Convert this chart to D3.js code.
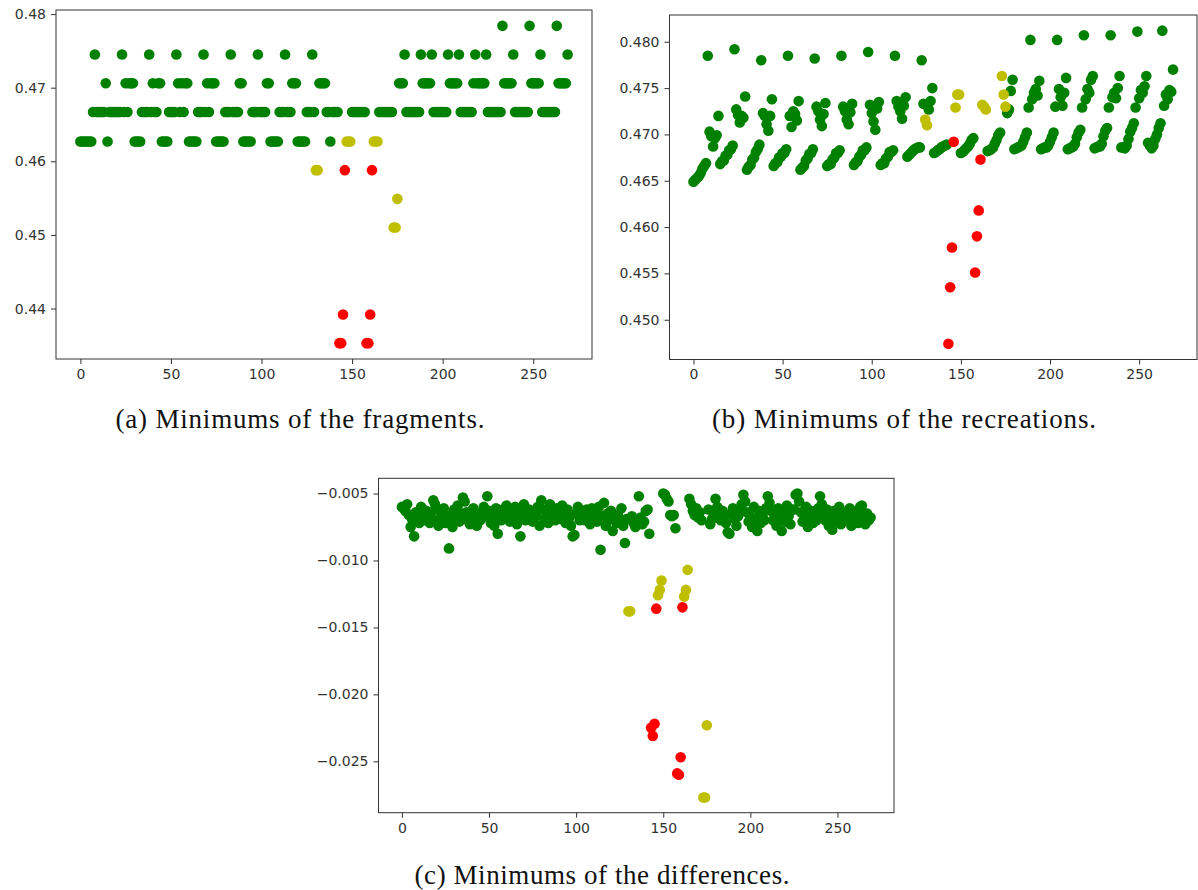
<!DOCTYPE html>
<html>
<head>
<meta charset="utf-8">
<script src="https://cdn.jsdelivr.net/npm/d3@7"></script>
<style>
  body { margin: 0; background: #fff; }
  svg { display: block; }
</style>
</head>
<body>
<svg id="fig" width="1198" height="890"></svg>
<script>
// Minimum value per fragment (index 0..269), 18 blocks of 15
const fragmentMins = [
  0.4627,0.4627,0.4627,0.4627,0.4627,0.4627,0.4627,0.4667,0.4745,0.4667,0.4667,0.4667,0.4667,0.4667,0.4706,
  0.4627,0.4667,0.4667,0.4667,0.4667,0.4667,0.4667,0.4667,0.4745,0.4667,0.4706,0.4667,0.4706,0.4706,0.4706,
  0.4627,0.4627,0.4627,0.4627,0.4667,0.4667,0.4667,0.4667,0.4745,0.4667,0.4706,0.4667,0.4667,0.4706,0.4706,
  0.4627,0.4627,0.4627,0.4627,0.4667,0.4667,0.4667,0.4667,0.4745,0.4706,0.4667,0.4706,0.4667,0.4706,0.4706,
  0.4627,0.4627,0.4627,0.4627,0.4627,0.4667,0.4667,0.4667,0.4745,0.4667,0.4706,0.4667,0.4706,0.4706,0.4706,
  0.4627,0.4627,0.4627,0.4627,0.4627,0.4667,0.4667,0.4667,0.4745,0.4667,0.4667,0.4667,0.4667,0.4706,0.4706,
  0.4627,0.4627,0.4627,0.4627,0.4627,0.4667,0.4667,0.4667,0.4745,0.4667,0.4667,0.4667,0.4667,0.4706,0.4706,
  0.4627,0.4627,0.4627,0.4627,0.4627,0.4667,0.4667,0.4667,0.4745,0.4667,0.4667,0.4667,0.4706,0.4706,0.4706,
  0.4627,0.4627,0.4627,0.4627,0.4627,0.4667,0.4667,0.4667,0.4745,0.4667,0.4588,0.4588,0.4706,0.4706,0.4706,
  0.4706,0.4667,0.4667,0.4627,0.4667,0.4667,0.4667,0.4667,0.4353,0.4353,0.4392,0.4588,0.4627,0.4627,0.4627,
  0.4667,0.4667,0.4667,0.4667,0.4667,0.4667,0.4667,0.4667,0.4353,0.4353,0.4392,0.4588,0.4627,0.4627,0.4627,
  0.4667,0.4667,0.4667,0.4667,0.4667,0.4667,0.4667,0.4667,0.4510,0.4510,0.4549,0.4706,0.4706,0.4706,0.4745,
  0.4667,0.4667,0.4667,0.4667,0.4667,0.4667,0.4667,0.4667,0.4745,0.4706,0.4706,0.4706,0.4706,0.4706,0.4745,
  0.4667,0.4667,0.4667,0.4667,0.4667,0.4667,0.4667,0.4667,0.4745,0.4706,0.4706,0.4706,0.4706,0.4706,0.4745,
  0.4667,0.4667,0.4667,0.4667,0.4667,0.4667,0.4667,0.4706,0.4745,0.4706,0.4706,0.4706,0.4706,0.4706,0.4745,
  0.4667,0.4667,0.4667,0.4667,0.4667,0.4667,0.4667,0.4667,0.4784,0.4706,0.4706,0.4706,0.4706,0.4706,0.4745,
  0.4667,0.4667,0.4667,0.4667,0.4667,0.4667,0.4667,0.4667,0.4784,0.4706,0.4706,0.4706,0.4706,0.4706,0.4745,
  0.4667,0.4667,0.4667,0.4667,0.4667,0.4667,0.4667,0.4667,0.4784,0.4706,0.4706,0.4706,0.4706,0.4706,0.4745
];

// Minimum value per recreation
const recreationMins = [
  0.4649,0.4651,0.4653,0.4655,0.4658,0.4663,0.4666,0.4669,0.4785,0.4703,0.4698,0.4687,0.4696,0.4699,0.4720,
  0.4668,0.4671,0.4672,0.4677,0.4678,0.4683,0.4684,0.4688,0.4792,0.4727,0.4721,0.4713,0.4720,0.4718,0.4741,
  0.4662,0.4665,0.4667,0.4673,0.4675,0.4681,0.4684,0.4689,0.4780,0.4723,0.4720,0.4711,0.4704,0.4720,0.4738,
  0.4666,0.4669,0.4670,0.4675,0.4676,0.4680,0.4680,0.4684,0.4785,0.4720,0.4708,0.4725,0.4722,0.4715,0.4736,
  0.4662,0.4664,0.4666,0.4672,0.4674,0.4679,0.4680,0.4684,0.4782,0.4730,0.4725,0.4716,0.4709,0.4722,0.4734,
  0.4666,0.4668,0.4668,0.4673,0.4675,0.4680,0.4680,0.4683,0.4785,0.4730,0.4725,0.4716,0.4711,0.4724,0.4733,
  0.4667,0.4670,0.4671,0.4676,0.4678,0.4683,0.4683,0.4686,0.4789,0.4732,0.4723,0.4714,0.4705,0.4728,0.4735,
  0.4667,0.4669,0.4669,0.4674,0.4676,0.4681,0.4681,0.4683,0.4785,0.4736,0.4730,0.4725,0.4717,0.4731,0.4740,
  0.4676,0.4678,0.4680,0.4682,0.4684,0.4685,0.4686,0.4686,0.4780,0.4733,0.4716,0.4710,0.4727,0.4736,0.4750,
  0.4680,0.4681,0.4683,0.4684,0.4686,0.4687,0.4688,0.4689,0.4474,0.4535,0.4578,0.4692,0.4729,0.4743,0.4743,
  0.4680,0.4681,0.4683,0.4685,0.4687,0.4690,0.4694,0.4696,0.4551,0.4590,0.4618,0.4673,0.4732,0.4730,0.4727,
  0.4682,0.4683,0.4684,0.4686,0.4690,0.4694,0.4699,0.4702,0.4763,0.4743,0.4730,0.4723,0.4727,0.4747,0.4759,
  0.4684,0.4685,0.4686,0.4687,0.4688,0.4692,0.4697,0.4702,0.4729,0.4802,0.4738,0.4745,0.4749,0.4742,0.4758,
  0.4684,0.4685,0.4686,0.4686,0.4688,0.4692,0.4697,0.4702,0.4730,0.4802,0.4749,0.4740,0.4731,0.4745,0.4761,
  0.4684,0.4685,0.4686,0.4687,0.4690,0.4697,0.4702,0.4705,0.4729,0.4807,0.4738,0.4749,0.4745,0.4759,0.4763,
  0.4685,0.4686,0.4687,0.4687,0.4690,0.4698,0.4704,0.4707,0.4729,0.4807,0.4740,0.4745,0.4739,0.4750,0.4763,
  0.4686,0.4686,0.4685,0.4688,0.4695,0.4703,0.4707,0.4712,0.4729,0.4811,0.4739,0.4748,0.4745,0.4752,0.4763,
  0.4691,0.4688,0.4685,0.4688,0.4695,0.4700,0.4707,0.4712,0.4812,0.4731,0.4743,0.4738,0.4748,0.4746,0.4770
];

// Minimum value of the differences
const differenceMins = [
  -0.0060,-0.0061,-0.0063,-0.0058,-0.0066,-0.0075,-0.0070,-0.0082,-0.0064,-0.0068,-0.0072,-0.0060,-0.0066,-0.0070,-0.0063,
  -0.0067,-0.0072,-0.0064,-0.0055,-0.0058,-0.0070,-0.0074,-0.0063,-0.0068,-0.0061,-0.0072,-0.0066,-0.0091,-0.0069,-0.0075,
  -0.0062,-0.0068,-0.0059,-0.0071,-0.0065,-0.0053,-0.0056,-0.0064,-0.0070,-0.0073,-0.0067,-0.0061,-0.0069,-0.0074,-0.0066,
  -0.0070,-0.0064,-0.0060,-0.0067,-0.0052,-0.0063,-0.0072,-0.0068,-0.0074,-0.0061,-0.0080,-0.0066,-0.0070,-0.0062,-0.0065,
  -0.0059,-0.0066,-0.0071,-0.0063,-0.0069,-0.0060,-0.0073,-0.0067,-0.0082,-0.0064,-0.0058,-0.0070,-0.0066,-0.0062,-0.0068,
  -0.0071,-0.0063,-0.0067,-0.0060,-0.0074,-0.0055,-0.0062,-0.0069,-0.0065,-0.0072,-0.0058,-0.0066,-0.0063,-0.0070,-0.0061,
  -0.0064,-0.0069,-0.0059,-0.0066,-0.0072,-0.0062,-0.0068,-0.0074,-0.0082,-0.0081,-0.0065,-0.0060,-0.0070,-0.0063,-0.0067,
  -0.0070,-0.0062,-0.0066,-0.0073,-0.0061,-0.0068,-0.0064,-0.0071,-0.0060,-0.0092,-0.0067,-0.0057,-0.0074,-0.0065,-0.0069,
  -0.0063,-0.0078,-0.0068,-0.0072,-0.0066,-0.0070,-0.0061,-0.0074,-0.0087,-0.0069,-0.0138,-0.0138,-0.0067,-0.0072,-0.0075,
  -0.0070,-0.0052,-0.0068,-0.0073,-0.0071,-0.0063,-0.0062,-0.0080,-0.0225,-0.0231,-0.0222,-0.0136,-0.0126,-0.0122,-0.0115,
  -0.0050,-0.0051,-0.0054,-0.0056,-0.0066,-0.0067,-0.0066,-0.0076,-0.0259,-0.0260,-0.0247,-0.0135,-0.0127,-0.0122,-0.0107,
  -0.0054,-0.0058,-0.0063,-0.0066,-0.0061,-0.0068,-0.0064,-0.0070,-0.0277,-0.0277,-0.0223,-0.0062,-0.0073,-0.0069,-0.0065,
  -0.0054,-0.0060,-0.0066,-0.0070,-0.0063,-0.0068,-0.0072,-0.0079,-0.0080,-0.0065,-0.0061,-0.0069,-0.0074,-0.0067,-0.0062,
  -0.0058,-0.0051,-0.0056,-0.0064,-0.0071,-0.0067,-0.0075,-0.0060,-0.0069,-0.0078,-0.0063,-0.0072,-0.0066,-0.0070,-0.0061,
  -0.0052,-0.0057,-0.0063,-0.0070,-0.0066,-0.0074,-0.0061,-0.0068,-0.0078,-0.0065,-0.0071,-0.0059,-0.0067,-0.0073,-0.0062,
  -0.0062,-0.0051,-0.0050,-0.0056,-0.0064,-0.0071,-0.0067,-0.0060,-0.0075,-0.0069,-0.0063,-0.0072,-0.0066,-0.0070,-0.0061,
  -0.0052,-0.0058,-0.0065,-0.0070,-0.0062,-0.0074,-0.0068,-0.0077,-0.0063,-0.0071,-0.0066,-0.0060,-0.0073,-0.0067,-0.0069,
  -0.0064,-0.0070,-0.0061,-0.0074,-0.0066,-0.0069,-0.0063,-0.0072,-0.0060,-0.0059,-0.0067,-0.0073,-0.0065,-0.0070,-0.0068
];

// Flagged fragments
const redIndices = [143, 144, 145, 146, 158, 159, 160, 161];
const yellowIndices = [130, 131, 147, 148, 149, 162, 163, 164, 173, 174, 175];

// Axis ticks
const xTickValues = [0, 50, 100, 150, 200, 250];
const yTicksA = [0.44, 0.45, 0.46, 0.47, 0.48];
const yTicksB = [0.450, 0.455, 0.460, 0.465, 0.470, 0.475, 0.480];
const yTicksC = [-0.025, -0.020, -0.015, -0.010, -0.005];

const captions = [
  "(a) Minimums of the fragments.",
  "(b) Minimums of the recreations.",
  "(c) Minimums of the differences."
];

const COLORS = { g: "#008000", y: "#bfbf00", r: "#ff0000" };
const redSet = new Set(redIndices);
const yellowSet = new Set(yellowIndices);
const colorOf = i => redSet.has(i) ? "r" : (yellowSet.has(i) ? "y" : "g");

const svg = d3.select("#fig");

const panels = [
  { values: fragmentMins,   box: { l: 56,    r: 592,  t: 10,    b: 359   }, yTicks: yTicksA, fmt: d3.format(".2f"),
    caption: { text: captions[0], x: 300, y: 428, w: 369 } },
  { values: recreationMins, box: { l: 669.5, r: 1197, t: 15,    b: 359.5 }, yTicks: yTicksB, fmt: d3.format(".3f"),
    caption: { text: captions[1], x: 904, y: 428, w: 384 } },
  { values: differenceMins, box: { l: 378.5, r: 894,  t: 478.3, b: 812.7 }, yTicks: yTicksC, fmt: d3.format(".3f"),
    caption: { text: captions[2], x: 602, y: 884, w: 375 } }
];

// matplotlib-style 5% autoscale margins
function padded(ext) {
  const span = ext[1] - ext[0];
  return [ext[0] - 0.05 * span, ext[1] + 0.05 * span];
}

panels.forEach(p => {
  const pts = p.values.map((v, i) => ({ i, v, c: colorOf(i) }));
  const x = d3.scaleLinear().domain(padded([0, p.values.length - 1])).range([p.box.l, p.box.r]);
  const y = d3.scaleLinear().domain(padded(d3.extent(p.values))).range([p.box.b, p.box.t]);

  const g = svg.append("g");

  // points: green first, then yellow, red on top
  ["g", "y", "r"].forEach(c => {
    g.append("g").selectAll("circle")
      .data(pts.filter(d => d.c === c))
      .join("circle")
      .attr("cx", d => x(d.i))
      .attr("cy", d => y(d.v))
      .attr("r", 5.3)
      .attr("fill", COLORS[c]);
  });

  // frame
  g.append("rect")
    .attr("x", p.box.l).attr("y", p.box.t)
    .attr("width", p.box.r - p.box.l).attr("height", p.box.b - p.box.t)
    .attr("fill", "none").attr("stroke", "#333").attr("stroke-width", 1);

  const xAxis = d3.axisBottom(x).tickValues(xTickValues).tickSize(5).tickSizeOuter(0).tickPadding(5);
  const yAxis = d3.axisLeft(y).tickValues(p.yTicks).tickFormat(p.fmt).tickSize(5).tickSizeOuter(0).tickPadding(5);

  const gx = g.append("g").attr("transform", `translate(0,${p.box.b})`).call(xAxis);
  const gy = g.append("g").attr("transform", `translate(${p.box.l},0)`).call(yAxis);
  [gx, gy].forEach(ax => {
    ax.select(".domain").remove();
    ax.selectAll(".tick line").attr("stroke", "#333");
    ax.selectAll(".tick text")
      .attr("fill", "#333")
      .style("font-family", "'DejaVu Sans', sans-serif")
      .style("font-size", "14px");
  });

  // caption
  svg.append("text")
    .attr("x", p.caption.x).attr("y", p.caption.y)
    .attr("text-anchor", "middle")
    .attr("textLength", p.caption.w)
    .attr("lengthAdjust", "spacing")
    .style("font-family", "'Liberation Serif', serif")
    .style("font-size", "27px")
    .attr("fill", "#111")
    .text(p.caption.text);
});
</script>
</body>
</html>
